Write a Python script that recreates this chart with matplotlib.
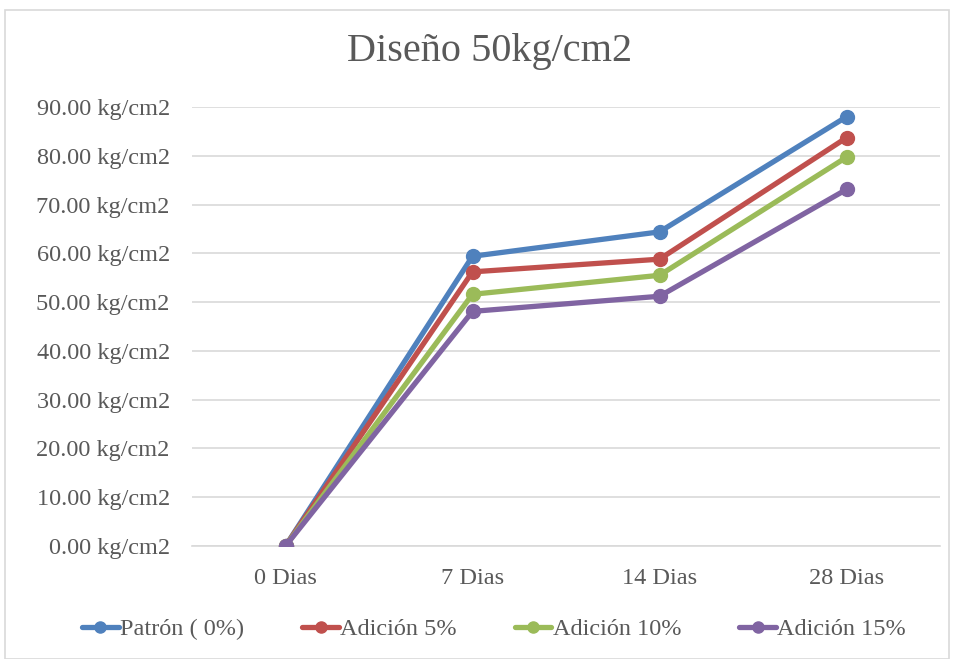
import matplotlib.pyplot as plt
from matplotlib.patches import Rectangle
from matplotlib.ticker import FuncFormatter

plt.rcParams['font.family'] = ['Liberation Serif', 'DejaVu Serif']

categories = ["0 Dias", "7 Dias", "14 Dias", "28 Dias"]
series_names = ["Patrón ( 0%)", "Adición 5%", "Adición 10%", "Adición 15%"]
patron = [0.0, 59.4, 64.4, 88.0]
adicion_5 = [0.0, 56.2, 58.8, 83.7]
adicion_10 = [0.0, 51.6, 55.5, 79.7]
adicion_15 = [0.0, 48.1, 51.2, 73.1]

colors = ["#4F81BD", "#C0504D", "#9BBB59", "#8064A2"]
text_color = "#595959"

W, H = 956, 659
fig = plt.figure(figsize=(W / 100, H / 100), dpi=100)
fig.patches.append(Rectangle((5 / W, 0), (W - 12) / W, (H - 10) / H,
                             transform=fig.transFigure, fill=False,
                             edgecolor="#D9D9D9", linewidth=1.2))

ax = fig.add_axes([192 / W, 1 - 546 / H, (940 - 192) / W, (546 - 107) / H])

x = list(range(len(categories)))
for vals, name, c in zip([patron, adicion_5, adicion_10, adicion_15], series_names, colors):
    ax.plot(x, vals, color=c, linewidth=3.8, marker="o", markersize=10,
            label=name, solid_capstyle="round", zorder=3)

ax.set_xlim(-0.5, len(categories) - 0.5)
ax.set_ylim(0, 90)
ax.set_yticks(range(0, 91, 10))
ax.yaxis.set_major_formatter(FuncFormatter(lambda v, p: f"{v:.2f} kg/cm2"))
ax.set_xticks(x)
ax.set_xticklabels(categories)
ax.grid(axis="y", color="#D9D9D9", linewidth=1.2, zorder=0)
ax.set_axisbelow(True)
for s in ["top", "right", "left"]:
    ax.spines[s].set_visible(False)
ax.spines["bottom"].set_color("#D9D9D9")
ax.spines["bottom"].set_linewidth(1.2)
ax.tick_params(axis="both", length=0, labelsize=17.5, labelcolor=text_color)
ax.tick_params(axis="y", pad=16)
ax.tick_params(axis="x", pad=16)

fig.text(490 / W, 1 - 52 / H, "Diseño 50kg/cm2", ha="center", va="center",
         fontsize=29, color=text_color)

fig.legend(loc="center", bbox_to_anchor=(494 / W, 1 - 629 / H), ncol=4,
           frameon=False, fontsize=17.5, labelcolor=text_color,
           handlelength=1.5, handletextpad=0.05, columnspacing=2.4,
           markerscale=0.8)

fig.savefig("out.png", dpi=100)
